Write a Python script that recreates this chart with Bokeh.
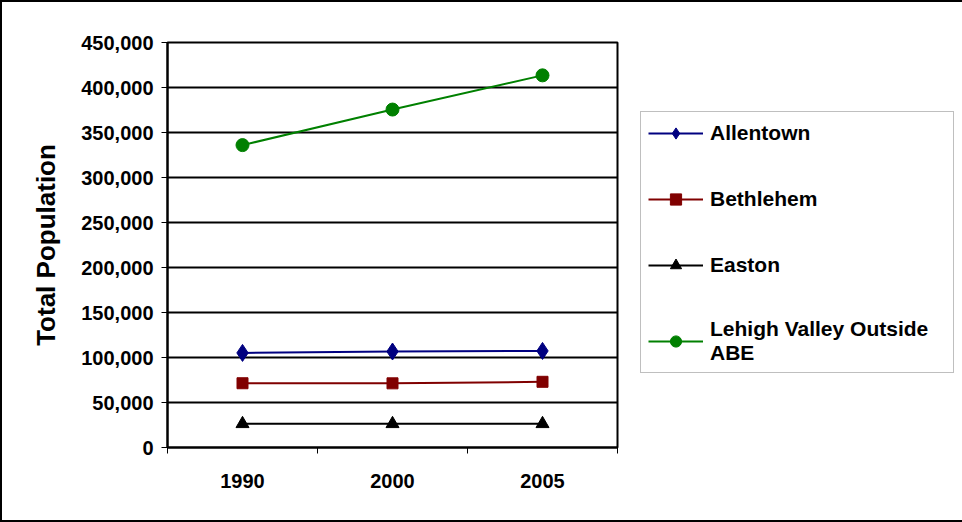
from bokeh.plotting import figure
from bokeh.models import Range1d, FixedTicker, NumeralTickFormatter, Legend, LegendItem
from bokeh.embed import file_html
from bokeh.resources import INLINE

years = ["1990", "2000", "2005"]
allentown = [105090, 106632, 107294]
bethlehem = [71400, 71300, 73000]
easton = [26300, 26300, 26300]
lehigh_outside = [336000, 375500, 413500]
y_ticks = [0, 50000, 100000, 150000, 200000, 250000, 300000, 350000, 400000, 450000]

FONT = "Liberation Sans"

# category centres on a numeric axis so tick marks can sit at the boundaries
xs = [i + 0.5 for i in range(len(years))]

p = figure(frame_width=450, frame_height=405, output_backend="svg",
           toolbar_location=None,
           x_range=Range1d(0, len(years)), y_range=Range1d(0, 450000),
           min_border_left=165, min_border_top=40, min_border_bottom=73,
           min_border_right=0)
p.styles = {"border": "2px solid black"}
p.background_fill_color = "white"
p.border_fill_color = "white"
p.outline_line_color = "black"
p.outline_line_width = 2

# x axis
p.xaxis.ticker = FixedTicker(ticks=xs, minor_ticks=list(range(len(years) + 1)))
p.xaxis.major_label_overrides = {x: y for x, y in zip(xs, years)}
p.xaxis.major_tick_out = 0
p.xaxis.major_tick_in = 0
p.xaxis.minor_tick_out = 6
p.xaxis.minor_tick_in = 0
p.xaxis.minor_tick_line_color = "black"
p.xaxis.minor_tick_line_width = 1
p.xaxis.major_label_standoff = 20
p.xaxis.axis_line_color = "black"
p.xaxis.axis_line_width = 2

# y axis
p.yaxis.ticker = FixedTicker(ticks=y_ticks)
p.yaxis.formatter = NumeralTickFormatter(format="0,0")
p.yaxis.major_tick_out = 6
p.yaxis.major_tick_in = 0
p.yaxis.minor_tick_line_color = None
p.yaxis.major_tick_line_color = "black"
p.yaxis.axis_line_color = "black"
p.yaxis.axis_line_width = 2
p.yaxis.major_label_standoff = 8
p.yaxis.axis_label = "Total Population"
p.yaxis.axis_label_text_font = FONT
p.yaxis.axis_label_text_font_style = "bold"
p.yaxis.axis_label_text_font_size = "26px"
p.yaxis.axis_label_text_color = "black"
p.yaxis.axis_label_standoff = 17

for ax in (p.xaxis, p.yaxis):
    ax.major_label_text_font = FONT
    ax.major_label_text_font_style = "bold"
    ax.major_label_text_font_size = "20px"
    ax.major_label_text_color = "black"

p.xgrid.grid_line_color = None
p.ygrid.ticker = FixedTicker(ticks=y_ticks)
p.ygrid.grid_line_color = "black"
p.ygrid.grid_line_width = 2

# name, values, colour, marker, size
series = [
    ("Allentown", allentown, "#000080", "diamond", 17),
    ("Bethlehem", bethlehem, "#800000", "square", 11),
    ("Easton", easton, "#000000", "triangle", 13),
    ("Lehigh Valley Outside\nABE", lehigh_outside, "#008000", "circle", 13),
]

items = []
for name, vals, color, marker, size in series:
    ln = p.line(xs, vals, line_color=color, line_width=2)
    sc = p.scatter(xs, vals, marker=marker, size=size,
                   fill_color=color, line_color=color)
    items.append(LegendItem(label=name, renderers=[ln, sc]))

legend = Legend(items=items, location=(23, 74))
legend.margin = 15
legend.padding = 7
legend.spacing = 38
legend.glyph_width = 55
legend.glyph_height = 28
legend.label_height = 20
legend.label_width = 236
legend.label_standoff = 7
legend.label_text_font = FONT
legend.label_text_font_style = "bold"
legend.label_text_font_size = "21px"
legend.label_text_color = "black"
legend.border_line_color = "#808080"
legend.border_line_width = 1.5
legend.background_fill_color = "white"
p.add_layout(legend, "right")

open("out.html", "w").write(file_html(p, INLINE))
